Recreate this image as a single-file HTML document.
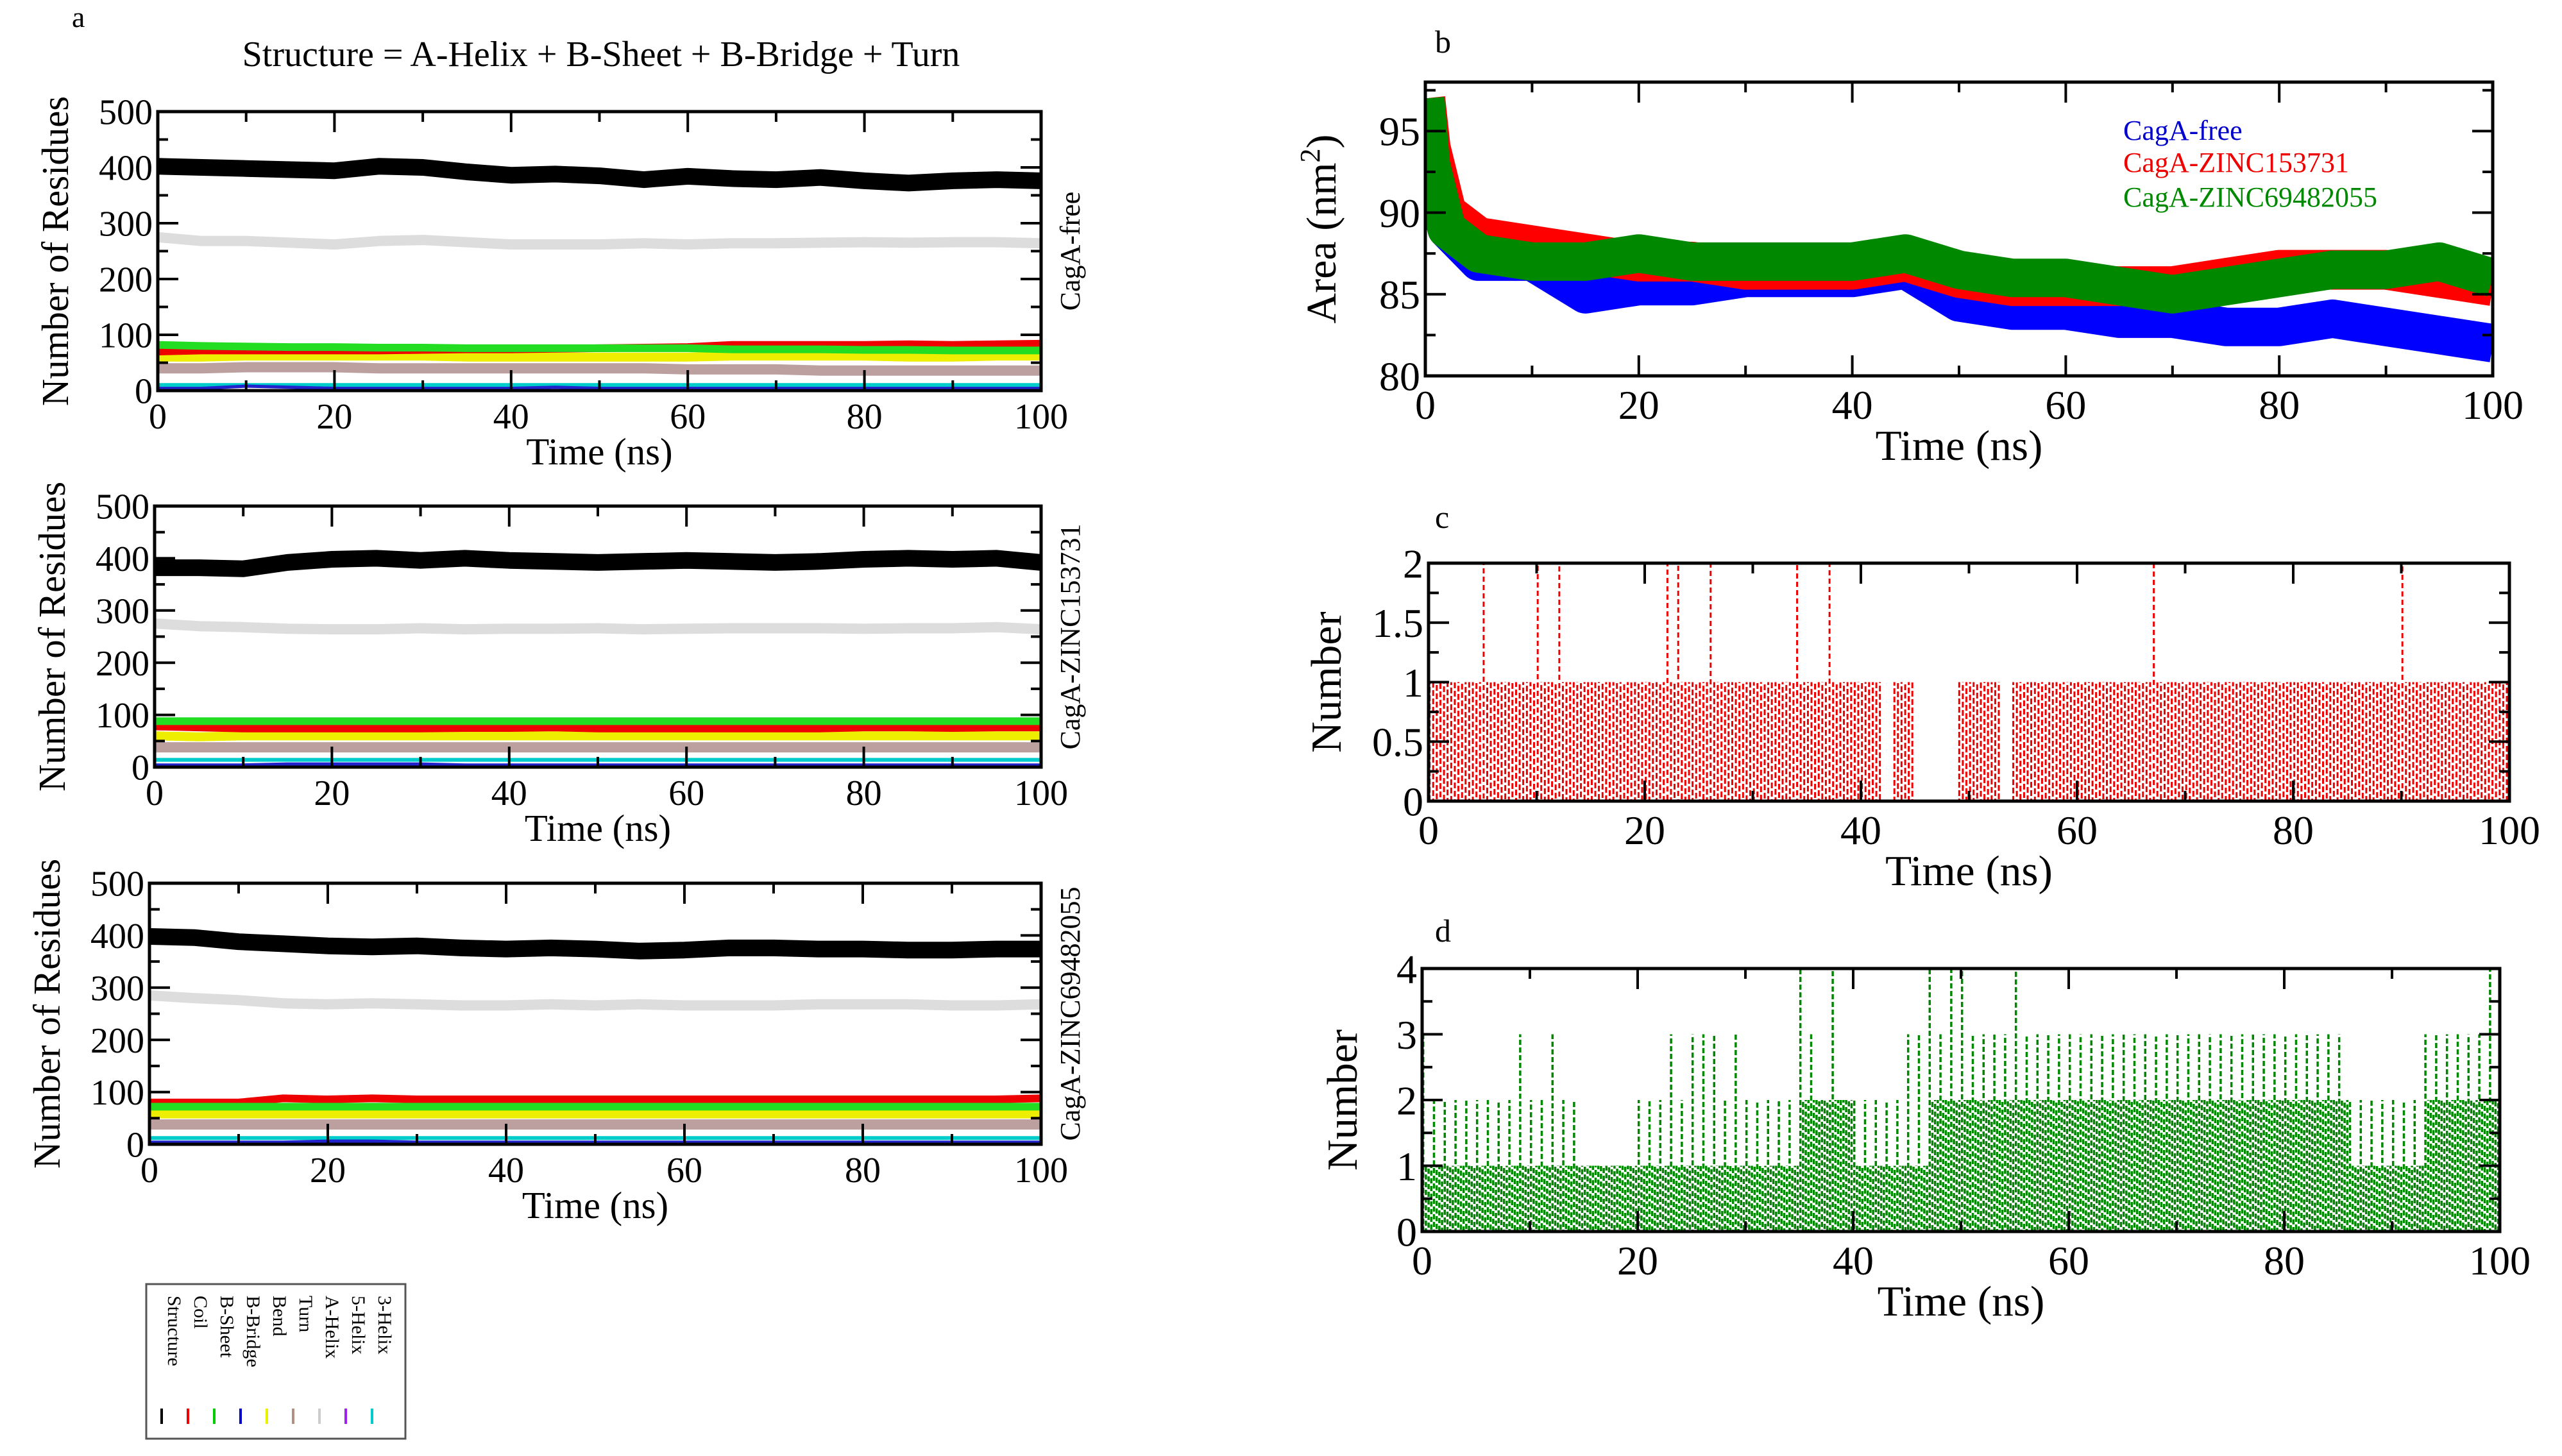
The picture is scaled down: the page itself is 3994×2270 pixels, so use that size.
<!DOCTYPE html>
<html><head><meta charset="utf-8">
<style>
html,body{margin:0;padding:0;background:#fff;}
svg{display:block;font-family:"Liberation Serif",serif;}
</style></head>
<body>
<svg id="fig" width="3994" height="2270" viewBox="0 0 3994 2270" xmlns="http://www.w3.org/2000/svg">
<defs id="defs"></defs>
<text x="112" y="42" font-size="46">a</text>
<text x="937" y="103" font-size="56" text-anchor="middle">Structure = A-Helix + B-Sheet + B-Bridge + Turn</text>
<text x="2237" y="82" font-size="50">b</text>
<text x="2237" y="823" font-size="50">c</text>
<text x="2237" y="1468" font-size="50">d</text>
<g id="root"></g>
</svg>
<script>
// ---- Panel a data (Number of residues vs time, sampled every 5 ns) ----
const tA = [0,5,10,15,20,25,30,35,40,45,50,55,60,65,70,75,80,85,90,95,100];
const a1Structure = [402,400,398,396,394,402,400,392,386,388,385,378,384,380,378,382,376,372,376,378,376];
const a1AHelix    = [275,268,268,265,262,268,270,266,262,262,262,264,262,264,264,265,266,265,266,266,264];
const a1Coil      = [70,72,72,72,72,72,73,74,74,75,76,77,78,82,82,82,82,83,82,83,84];
const a1BSheet    = [82,80,79,78,78,77,77,76,76,76,76,76,76,74,74,74,73,73,72,72,72];
const a1Bend      = [60,60,62,62,62,62,62,60,60,60,60,60,60,62,62,62,62,60,60,62,62];
const a1Turn      = [40,40,42,42,42,40,40,40,40,40,40,40,38,38,38,36,36,36,36,36,36];
const a1Helix3    = [10,10,10,10,10,10,10,10,10,10,10,10,10,10,10,10,10,10,10,10,10];
const a1BBridge   = [4,4,8,6,4,4,4,4,4,6,4,4,4,4,4,4,4,4,4,4,4];

const a2Structure = [382,382,380,392,398,400,396,400,396,394,392,394,396,394,392,394,398,400,398,400,392];
const a2AHelix    = [275,270,268,265,264,264,266,264,265,265,266,264,265,266,266,266,265,266,266,268,264];
const a2Coil      = [78,76,74,74,74,74,74,75,75,76,74,74,74,74,74,74,76,76,75,76,76];
const a2BSheet    = [88,88,88,88,88,88,88,88,88,88,88,88,88,88,88,88,88,88,88,88,88];
const a2Bend      = [60,58,60,60,60,60,60,60,60,60,60,60,60,60,60,60,60,60,60,60,60];
const a2Turn      = [38,38,38,38,38,38,38,38,38,38,38,38,38,38,38,38,38,38,38,38,38];
const a2Helix3    = [14,14,14,14,14,14,14,14,14,14,14,14,14,14,14,14,14,14,14,14,14];
const a2BBridge   = [4,4,4,6,6,6,6,4,4,4,4,4,4,4,4,4,4,4,4,4,4];

const a3Structure = [398,396,388,384,380,378,380,376,374,376,374,370,372,376,376,374,374,372,372,374,374];
const a3AHelix    = [285,280,276,270,268,270,268,266,266,268,266,268,266,266,266,268,268,268,266,266,268];
const a3Coil      = [80,80,80,88,86,88,86,86,86,86,86,86,86,86,86,86,86,86,86,86,88];
const a3BSheet    = [72,72,72,72,72,72,72,72,72,72,72,72,72,72,72,72,72,72,72,72,72];
const a3Bend      = [58,58,58,58,58,58,58,58,58,58,58,58,58,58,58,58,58,58,58,58,58];
const a3Turn      = [38,38,38,38,38,38,38,38,38,38,38,38,38,38,38,38,38,38,38,38,38];
const a3Helix3    = [12,12,12,12,12,12,12,12,12,12,12,12,12,12,12,12,12,12,12,12,12];
const a3BBridge   = [4,4,4,4,6,6,4,4,4,4,4,4,4,4,4,4,4,4,4,4,4];

const legendLabels = ["Structure","Coil","B-Sheet","B-Bridge","Bend","Turn","A-Helix","5-Helix","3-Helix"];
const legendColors = ["#000","#e00","#0c0","#00c","#ee0","#b09080","#ccc","#a020f0","#0cc"];

// ---- Panel b data (Area nm^2) ----
const tB = [0,0.5,2,5,10,15,20,25,30,35,40,45,50,55,60,65,70,75,80,85,90,95,100];
const bFree  = [97,93,89,87,87,85,85.5,85.5,86,86,86,86.5,84.5,84,84,83.5,83.5,83,83,83.5,83,82.5,82];
const bZ1    = [97,94,90,88.5,88,87.5,87,87,86.5,86.5,86.5,87,86,85.5,85.5,85.5,85.5,86,86.5,86.5,86.5,86,85.5];
const bZ2    = [97,93,89,87.5,87,87,87.5,87,87,87,87,87.5,86.5,86,86,85.5,85,85.5,86,86.5,86.5,87,86];

// ---- Panel c data (H-bond number per ns bin) ----
const cVals = [1,1,1,1,1,2,1,1,1,1,2,1,2,1,1,1,1,1,1,1,1,1,2,2,1,1,2,1,1,1,1,1,1,1,2,1,1,2,1,1,1,1,0,1,1,0,0,0,0,1,1,1,1,0,1,1,1,1,1,1,1,1,1,1,1,1,1,2,1,1,1,1,1,1,1,1,1,1,1,1,1,1,1,1,1,1,1,1,1,1,2,1,1,1,1,1,1,1,1,1];

// ---- Panel d data (H-bond number per ns bin: base level and max) ----
const dBase = [1,1,1,1,1,1,1,1,1,1,1,1,1,1,1,1,1,1,1,1,1,1,1,1,1,1,1,1,1,1,1,1,1,1,1,2,2,2,2,2,1,1,1,1,1,1,1,2,2,2,2,2,2,2,2,2,2,2,2,2,2,2,2,2,2,2,2,2,2,2,2,2,2,2,2,2,2,2,2,2,2,2,2,2,2,2,1,1,1,1,1,1,1,2,2,2,2,2,2,2];
const dMax  = [3,2,2,2,2,2,2,2,2,3,2,2,3,2,2,1,1,1,1,1,2,2,2,3,2,3,3,3,2,3,2,2,2,2,2,4,3,2,4,2,2,2,2,2,2,3,3,4,3,4,4,3,3,3,3,4,3,3,3,3,3,3,3,3,3,3,3,3,3,3,3,3,3,3,3,3,3,3,3,3,3,3,3,3,3,3,2,2,2,2,2,2,2,3,3,3,3,3,3,4];

const NS = "http://www.w3.org/2000/svg";
const root = document.getElementById('root');
const defs = document.getElementById('defs');
function mk(tag, attrs, parent){const e=document.createElementNS(NS,tag);for(const k in attrs)e.setAttribute(k,attrs[k]);(parent||root).appendChild(e);return e;}
let clipN=0;
function axes(name, L,R,T,B, xmin,xmax,ymin,ymax, xMaj,xMin,yMaj,yMin, yFmt, fs, xTitle, yTitle, yTitleX){
  const g = mk('g',{});
  
  
  const sx=v=>L+(v-xmin)/(xmax-xmin)*(R-L);
  const sy=v=>B-(v-ymin)/(ymax-ymin)*(B-T);
  const cid='clip'+(clipN++);
  const cp=mk('clipPath',{id:cid},defs); mk('rect',{x:L,y:T,width:R-L,height:B-T},cp);
  const plot = mk('g',{'clip-path':`url(#${cid})`},g);
  const fr = mk('g',{},g);
  mk('rect',{x:L,y:T,width:R-L,height:B-T,fill:'none',stroke:'#000','stroke-width':5},fr);
  for(let v=xmin; v<=xmax+1e-9; v+=xMin){
    const maj = Math.abs(Math.round(v/xMaj)*xMaj - v)<1e-6; const len = maj?32:16; const x=sx(v);
    mk('line',{x1:x,y1:B,x2:x,y2:B-len,stroke:'#000','stroke-width':4},fr);
    mk('line',{x1:x,y1:T,x2:x,y2:T+len,stroke:'#000','stroke-width':4},fr);
    if(maj){const t=mk('text',{x:x,y:B+fs*1.05,'font-size':fs,'text-anchor':'middle'},fr);t.textContent=Math.round(v);
      
      }
  }
  for(let v=ymin; v<=ymax+1e-9; v+=yMin){
    const maj = Math.abs(Math.round(v/yMaj)*yMaj - v)<1e-6; const len = maj?32:16; const y=sy(v);
    mk('line',{x1:L,y1:y,x2:L+len,y2:y,stroke:'#000','stroke-width':4},fr);
    mk('line',{x1:R,y1:y,x2:R-len,y2:y,stroke:'#000','stroke-width':4},fr);
    if(maj){const t=mk('text',{x:L-8,y:y+fs*0.35,'font-size':fs,'text-anchor':'end'},fr);t.textContent=yFmt(v);
      
      }
  }
  const xt=mk('text',{x:(L+R)/2,y:B+fs*2.05,'font-size':fs*1.05,'text-anchor':'middle'},fr);xt.textContent=xTitle;
  
  
  const yt=mk('text',{x:0,y:0,'font-size':fs*1.05,'text-anchor':'middle',transform:`translate(${yTitleX},${(T+B)/2}) rotate(-90)`},fr);yt.textContent=yTitle;
  
  
  return {sx,sy,plot,g};
}
function line(ax, xs, ys, color, w, name){
  const d = xs.map((x,i)=>(i?'L':'M')+ax.sx(x).toFixed(1)+','+ax.sy(ys[i]).toFixed(1)).join('');
  const p = mk('path',{d:d,fill:'none',stroke:color,'stroke-width':w,'stroke-linejoin':'round'},ax.plot);
  
  
}

// Panel a
const aPanels = [
 {n:'a1',L:246,R:1623,T:174,B:609,lab:'CagA-free',s:[a1Structure,a1AHelix,a1Coil,a1BSheet,a1Bend,a1Turn,a1Helix3,a1BBridge]},
 {n:'a2',L:241,R:1623,T:789,B:1196,lab:'CagA-ZINC153731',s:[a2Structure,a2AHelix,a2Coil,a2BSheet,a2Bend,a2Turn,a2Helix3,a2BBridge]},
 {n:'a3',L:233,R:1623,T:1377,B:1784,lab:'CagA-ZINC69482055',s:[a3Structure,a3AHelix,a3Coil,a3BSheet,a3Bend,a3Turn,a3Helix3,a3BBridge]}
];
const aColors=['#000','#ddd','#e00','#2d2','#ee0','#bca0a0','#0cc','#22c'];
const aNames=['structure','a-helix','coil','b-sheet','bend','turn','3-helix','b-bridge'];
const aWidths=[26,16,12,12,14,16,6,5];
const aOrder=[5,4,2,3,6,7,1,0];
aPanels.forEach(p=>{
  const ax=axes('panel-'+p.n+'-chart',p.L,p.R,p.T,p.B,0,100,0,500,20,10,100,50,v=>v,56,'Time (ns)','Number of Residues',p.L-140);
  aOrder.forEach(i=>line(ax,tA,p.s[i],aColors[i],aWidths[i],'line-'+aNames[i]));
  const t=mk('text',{x:0,y:0,'font-size':44,'text-anchor':'middle',transform:`translate(${p.R+60},${(p.T+p.B)/2}) rotate(-90)`},ax.g);t.textContent=p.lab;
  
  
});
// Legend box
const lg = mk('g',{});


mk('rect',{x:228,y:2002,width:404,height:241,fill:'#fff',stroke:'#555','stroke-width':3},lg);
legendLabels.forEach((lab,i)=>{
  const x=262+i*41;
  const t=mk('text',{x:0,y:0,'font-size':30,transform:`translate(${x},${2020}) rotate(90)`},lg);t.textContent=lab;
  
  
  mk('line',{x1:x-10,y1:2196,x2:x-10,y2:2220,stroke:legendColors[i],'stroke-width':4},lg);
});

// Panel b
const axB=axes('panel-b-chart',2222,3886,128,586,0,100,80,98,20,10,5,2.5,v=>v,64,'Time (ns)','',0);
line(axB,tB,bFree,'#00f',60,'series-cagA-free');
line(axB,tB,bZ1,'#f00',62,'series-zinc153731');
line(axB,tB,bZ2,'#080',60,'series-zinc69482055');
{const t=mk('text',{x:0,y:0,'font-size':66,'text-anchor':'middle',transform:`translate(2082,357) rotate(-90)`},axB.g);t.textContent='Area (nm';
 const s=mk('tspan',{dy:-25,'font-size':44},t);s.textContent='2';const s2=mk('tspan',{dy:25},t);s2.textContent=')';
 
 }
[['CagA-free','#00c',218],['CagA-ZINC153731','#e00',268],['CagA-ZINC69482055','#080',322]].forEach(([s,c,y])=>{
  const t=mk('text',{x:3310,y:y,'font-size':44,fill:c},axB.g);t.textContent=s;
  
  
});

// Panel c
const axC=axes('panel-c-chart',2227,3912,878,1249,0,100,0,2,20,10,0.5,0.25,v=>v,64,'Time (ns)','Number',2090);
cVals.forEach((v,i)=>{
  for(let k=0;k<3;k++){
    const x=i+0.33*k+0.1;
    if(v===0) continue;
    const top = (v===2 && k===0)?2:1;
    const l=mk('line',{x1:axC.sx(x),y1:axC.sy(0),x2:axC.sx(x),y2:axC.sy(top),stroke:'#e00','stroke-width':3,'stroke-dasharray':top===2?'8,5':'9,4','stroke-dashoffset':(i*7+k*5)%13},axC.plot);
    
    
  }
});

// Panel d
const axD=axes('panel-d-chart',2217,3897,1510,1920,0,100,0,4,20,10,1,0.5,v=>v,64,'Time (ns)','Number',2115);
dBase.forEach((v,i)=>{
  for(let k=0;k<4;k++){
    const x=i+0.25*k+0.1;
    const top = k===0?dMax[i]:v;
    const l=mk('line',{x1:axD.sx(x),y1:axD.sy(0),x2:axD.sx(x),y2:axD.sy(top),stroke:'#080','stroke-width':3.5,'stroke-dasharray':'8,4','stroke-dashoffset':(i*5+k*3)%12},axD.plot);
    
    
  }
});
</script>
</body></html>
